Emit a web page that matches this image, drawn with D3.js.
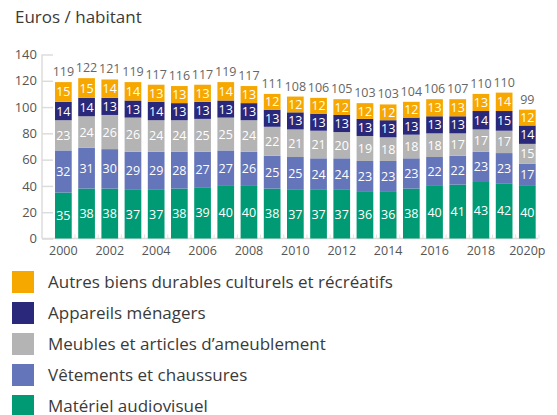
<!DOCTYPE html>
<html>
<head>
<meta charset="utf-8">
<script src="https://cdn.jsdelivr.net/npm/d3@7"></script>
<style>
  body { margin: 0; background: #fff; }
  svg { font-family: "Open Sans", sans-serif; }
</style>
</head>
<body>
<svg width="557" height="415"></svg>
<script>
const years = ['2000', '2001', '2002', '2003', '2004', '2005', '2006', '2007', '2008', '2009',
               '2010', '2011', '2012', '2013', '2014', '2015', '2016', '2017', '2018', '2019', '2020p'];
const yearLabels = ['2000', '2002', '2004', '2006', '2008', '2010', '2012', '2014', '2016', '2018', '2020p'];

const audiovisuel = [35, 38, 38, 37, 37, 38, 39, 40, 40, 38, 37, 37, 37, 36, 36, 38, 40, 41, 43, 42, 40];
const vetements   = [32, 31, 30, 29, 29, 28, 27, 27, 26, 25, 25, 24, 24, 23, 23, 23, 22, 22, 23, 23, 17];
const meubles     = [23, 24, 26, 26, 24, 24, 25, 25, 24, 22, 21, 21, 20, 19, 18, 18, 18, 17, 17, 17, 15];
const menagers    = [14, 14, 13, 13, 14, 13, 13, 13, 13, 13, 13, 13, 13, 13, 13, 13, 13, 13, 14, 15, 14];
const autres      = [15, 15, 14, 14, 13, 13, 13, 14, 13, 12, 12, 12, 12, 12, 12, 12, 13, 13, 13, 14, 12];
const totals      = [119, 122, 121, 119, 117, 116, 117, 119, 117, 111, 108, 106, 105, 103, 103, 104, 106, 107, 110, 110, 99];

const seriesNames = ['Matériel audiovisuel', 'Vêtements et chaussures', 'Meubles et articles d\u2019ameublement',
                     'Appareils ménagers', 'Autres biens durables culturels et récréatifs'];
const seriesValues = [audiovisuel, vetements, meubles, menagers, autres];
const colors = ['#009b74', '#6575ba', '#b4b4b4', '#29287a', '#f6a800'];
const yTicks = [0, 20, 40, 60, 80, 100, 120, 140];

const svg = d3.select('svg');

// rows for the stack
const rows = years.map((y, i) => {
  const r = { year: y };
  seriesNames.forEach((s, k) => { r[s] = seriesValues[k][i]; });
  return r;
});
const stacked = d3.stack().keys(seriesNames)(rows);

const x = d3.scaleBand()
            .domain(years)
            .range([52.7, 538])
            .paddingInner(0.28)
            .paddingOuter(0.1),
      y = d3.scaleLinear()
            .domain([0, 140])
            .range([238.5, 54.5]);

svg.append('text')
    .text('Euros / habitant')
    .attr('x', 15)
    .attr('y', 22.5)
    .attr('font-size', 17)
    .attr('font-weight', 500)
    .attr('fill', '#3a3a3a');

// y axis
const yAxis = svg.append('g')
    .attr('transform', 'translate(42, 0)')
    .call(d3.axisRight(y).tickValues(yTicks).tickSize(11).tickFormat(d3.format('d')));
yAxis.select('.domain').attr('stroke', '#dcdcdc').attr('stroke-width', 1.5).attr('d', `M0,${y(0)}V${y(140)}`);
yAxis.selectAll('.tick line').attr('stroke', '#dcdcdc').attr('stroke-width', 1.5);
yAxis.selectAll('.tick text')
    .attr('x', -5)
    .attr('text-anchor', 'end')
    .attr('font-size', 13)
    .attr('fill', '#555')
    .attr('font-family', '"Open Sans", sans-serif');

// x axis
const xAxis = svg.append('g')
    .attr('transform', `translate(0, ${y(0)})`)
    .call(d3.axisBottom(x).tickValues(yearLabels).tickSize(0).tickPadding(8));
xAxis.select('.domain').attr('stroke', '#dcdcdc').attr('stroke-width', 1.5).attr('d', 'M42,0H538');
xAxis.selectAll('.tick text')
    .attr('font-size', 12.5)
    .attr('fill', '#555')
    .attr('font-family', '"Open Sans", sans-serif');

// small marks between bands
xAxis.append('g')
  .selectAll('line')
  .data(years)
  .enter()
  .append('line')
    .attr('x1', (d) => x(d) + x.step())
    .attr('x2', (d) => x(d) + x.step())
    .attr('y1', -4)
    .attr('y2', 0)
    .attr('stroke', '#e2e2e2')
    .attr('transform', `translate(${-x.step() * x.paddingInner() / 2}, 0)`);

// bars
const layers = svg.append('g')
  .selectAll('g')
  .data(stacked)
  .enter()
  .append('g')
    .attr('fill', (d, i) => colors[i]);

layers.selectAll('rect')
  .data((d) => d)
  .enter()
  .append('rect')
    .attr('x', (d) => x(d.data.year))
    .attr('y', (d) => y(d[1]))
    .attr('width', x.bandwidth())
    .attr('height', (d) => y(d[0]) - y(d[1]));

layers.selectAll('text')
  .data((d) => d.map((v) => ({ v, val: v[1] - v[0] })))
  .enter()
  .append('text')
    .text((d) => d.val)
    .attr('x', (d) => x(d.v.data.year) + x.bandwidth() / 2)
    .attr('y', (d) => (y(d.v[0]) + y(d.v[1])) / 2)
    .attr('dy', '0.36em')
    .attr('text-anchor', 'middle')
    .attr('font-size', 12.5)
    .attr('font-weight', 500)
    .attr('fill', '#fff');

// totals
svg.append('g')
  .selectAll('text')
  .data(years)
  .enter()
  .append('text')
    .text((d, i) => totals[i])
    .attr('x', (d) => x(d) + x.bandwidth() / 2)
    .attr('y', (d, i) => y(d3.sum(seriesValues, (s) => s[i])) - 6)
    .attr('text-anchor', 'middle')
    .attr('font-size', 12.5)
    .attr('fill', '#666');

// legend
const legend = svg.append('g')
  .selectAll('g')
  .data(seriesNames.slice().reverse())
  .enter()
  .append('g')
    .attr('transform', (d, i) => `translate(12, ${271 + i * 31})`);

legend.append('rect')
    .attr('width', 22)
    .attr('height', 22)
    .attr('fill', (d) => colors[seriesNames.indexOf(d)]);

legend.append('text')
    .text((d) => d)
    .attr('x', 36)
    .attr('y', 16.5)
    .attr('font-size', 17)
    .attr('fill', '#3a3a3a');
</script>
</body>
</html>
